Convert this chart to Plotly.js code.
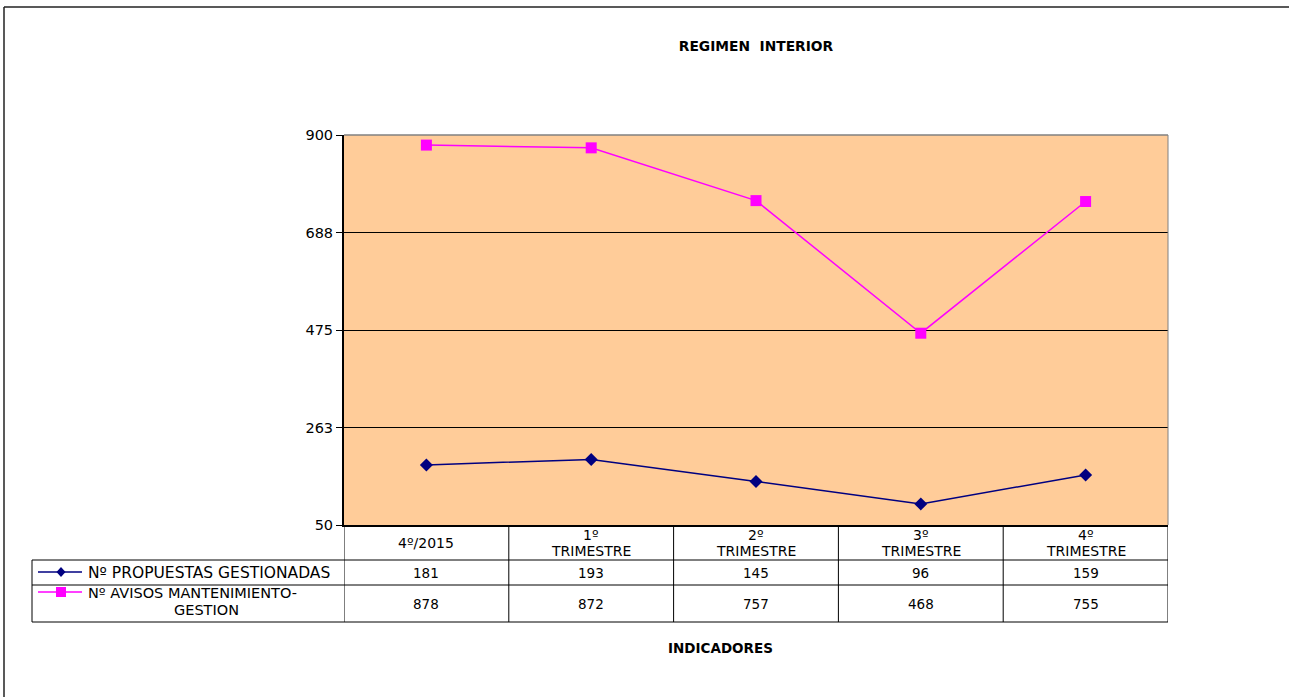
<!DOCTYPE html>
<html>
<head>
<meta charset="utf-8">
<script src="https://cdn.plot.ly/plotly-3.0.1.min.js"></script>
<style>html,body{margin:0;padding:0;background:#fff;}#chart{width:1289px;height:697px;}</style>
</head>
<body>
<div id="chart"></div>
<script>
const categories = ["4º/2015", "1º<br>TRIMESTRE", "2º<br>TRIMESTRE", "3º<br>TRIMESTRE", "4º<br>TRIMESTRE"];
const seriesNames = ["Nº PROPUESTAS GESTIONADAS", "Nº AVISOS MANTENIMIENTO-<br>GESTION"];
const propuestas = [181, 193, 145, 96, 159];
const avisos = [878, 872, 757, 468, 755];
const yTickVals = [50, 262.5, 475, 687.5, 900];
const yTickText = ["50", "263", "475", "688", "900"];

const FONT = "DejaVu Sans, Arial, sans-serif";
const FS = 15.5;
const FS2 = 14;
const FSN = 13.5;
const idx = categories.map((c, i) => i);

// plot area in pixels
const L = 344, R = 1168, T = 135, B = 525, W = 1289, H = 697;
const pw = R - L, ph = B - T;
const px = x => (x - L) / pw;
const py = y => (B - y) / ph;

const traces = [
  {x: idx, y: propuestas, type: 'scatter', mode: 'lines+markers', name: seriesNames[0],
   line: {color: '#000080', width: 1.5}, marker: {symbol: 'diamond', size: 10, color: '#000080'}, cliponaxis: false},
  {x: idx, y: avisos, type: 'scatter', mode: 'lines+markers', name: seriesNames[1],
   line: {color: '#FF00FF', width: 1.5}, marker: {symbol: 'square', size: 11, color: '#FF00FF'}, cliponaxis: false}
];

const shapes = [];
const annotations = [];
function txt(xref, x, y, text, xanchor, size, opts) {
  annotations.push(Object.assign({xref: xref, yref: 'paper', x: x, y: py(y), xanchor: xanchor || 'center', yanchor: 'middle',
    showarrow: false, text: text, borderpad: 0, font: {family: FONT, size: size || FS, color: '#000'}}, opts || {}));
}
// outer border
shapes.push({type: 'line', xref: 'paper', yref: 'paper', x0: px(4), x1: px(1289), y0: py(7), y1: py(7), line: {color: '#222', width: 1.5}});
shapes.push({type: 'line', xref: 'paper', yref: 'paper', x0: px(4), x1: px(4), y0: py(7), y1: py(697), line: {color: '#222', width: 1.5}});
// plot borders
shapes.push({type: 'line', xref: 'paper', yref: 'paper', x0: 0, x1: 1, y0: 1, y1: 1, line: {color: '#808080', width: 1.5}});
shapes.push({type: 'line', xref: 'paper', yref: 'paper', x0: 1, x1: 1, y0: 0, y1: 1, line: {color: '#808080', width: 1}});

// table
const rowY = [560, 585, 622];
rowY.forEach(y => shapes.push({type: 'line', xref: 'paper', yref: 'paper', x0: px(32), x1: 1, y0: py(y), y1: py(y), line: {color: '#000', width: 1}}));
shapes.push({type: 'line', xref: 'paper', yref: 'paper', x0: px(32), x1: px(32), y0: py(560), y1: py(622), line: {color: '#000', width: 1}});
for (let i = 0; i <= categories.length; i++) {
  shapes.push({type: 'line', xref: 'x', yref: 'paper', x0: i - 0.5, x1: i - 0.5, y0: 0, y1: py(622), line: {color: '#000', width: 1}});
}
// legend keys
shapes.push({type: 'line', xref: 'paper', yref: 'paper', x0: px(38), x1: px(82), y0: py(572), y1: py(572), line: {color: '#000080', width: 1.5}});
shapes.push({type: 'path', xref: 'paper', yref: 'paper', fillcolor: '#000080', line: {width: 0},
  path: `M ${px(61)} ${py(567)} L ${px(65.5)} ${py(572)} L ${px(61)} ${py(577)} L ${px(56.5)} ${py(572)} Z`});
shapes.push({type: 'line', xref: 'paper', yref: 'paper', x0: px(38), x1: px(82), y0: py(592), y1: py(592), line: {color: '#FF00FF', width: 1.5}});
shapes.push({type: 'rect', xref: 'paper', yref: 'paper', fillcolor: '#FF00FF', line: {width: 0},
  x0: px(56), x1: px(66), y0: py(587), y1: py(597)});

txt('paper', px(87), 573, seriesNames[0], 'left');
const s2 = seriesNames[1].split('<br>');
txt('paper', px(87), 593, s2[0], 'left', 14.5);
txt('paper', px(206), 610, s2[1], 'center', 14.5);

categories.forEach((c, i) => {
  const parts = c.split('<br>');
  if (parts.length === 1) {
    txt('x', i, 543, parts[0], 'center', FS2);
  } else {
    txt('x', i, 534.5, parts[0], 'center', FS2);
    txt('x', i, 551, parts[1], 'center', FS2);
  }
  txt('x', i, 573, String(propuestas[i]), 'center', FSN);
  txt('x', i, 604, String(avisos[i]), 'center', FSN);
});

txt('paper', px(720), 648, '<b>INDICADORES</b>', 'center', 13.5);

const layout = {
  width: W, height: H,
  margin: {l: L, r: W - R, t: T, b: H - B, pad: 0},
  paper_bgcolor: '#fff', plot_bgcolor: '#FFCC99',
  showlegend: false,
  title: {text: '<b>REGIMEN  INTERIOR</b>', x: 0.5, xref: 'paper', xanchor: 'center', y: 1 - 46 / H, yanchor: 'middle',
    font: {family: FONT, size: 13.8, color: '#000'}},
  xaxis: {range: [-0.5, categories.length - 0.5], showticklabels: false, showgrid: false, zeroline: false,
    showline: true, linecolor: '#000', linewidth: 2, ticks: '', fixedrange: true},
  yaxis: {range: [50, 900], tickvals: yTickVals, ticktext: yTickText, showgrid: true, gridcolor: '#000', gridwidth: 1,
    zeroline: false, showline: true, linecolor: '#000', linewidth: 2, ticks: 'outside', ticklen: 6, tickcolor: '#000',
    tickfont: {family: FONT, size: 14.5, color: '#000'}, fixedrange: true},
  shapes: shapes,
  annotations: annotations
};

Plotly.newPlot('chart', traces, layout, {displayModeBar: false, staticPlot: true});
</script>
</body>
</html>
